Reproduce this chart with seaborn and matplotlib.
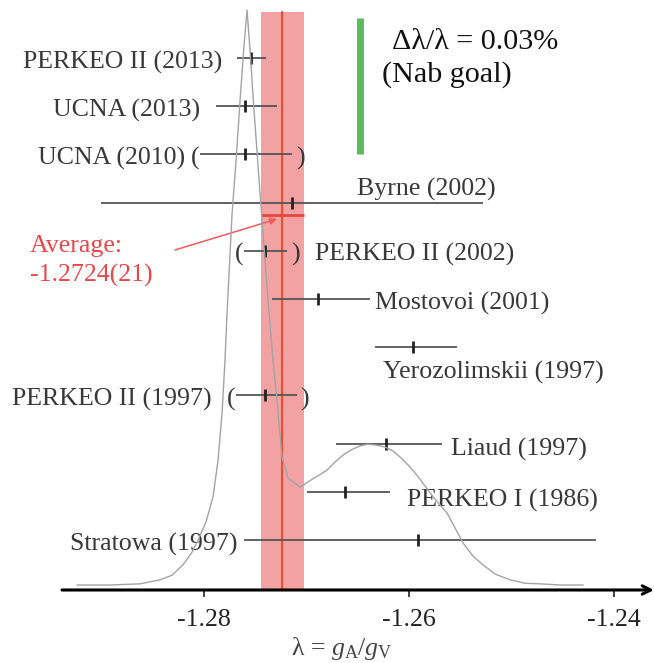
import pandas as pd
import matplotlib
matplotlib.use("Agg")
import matplotlib.pyplot as plt
import seaborn as sns

experimentos = ["PERKEO II (2013)", "UCNA (2013)", "UCNA (2010)", "Byrne (2002)",
                "PERKEO II (2002)", "Mostovoi (2001)", "Yerozolimskii (1997)",
                "PERKEO II (1997)", "Liaud (1997)", "PERKEO I (1986)", "Stratowa (1997)"]
lam_centro = [-1.2754, -1.2760, -1.2760, -1.2714, -1.2741, -1.2689, -1.2596,
              -1.2741, -1.2623, -1.2663, -1.2592]
err_inf = [0.0014, 0.0029, 0.0044, 0.0187, 0.0020, 0.0045, 0.0037, 0.0028, 0.0049, 0.0037, 0.0169]
err_sup = [0.0014, 0.0031, 0.0046, 0.0186, 0.0022, 0.0051, 0.0043, 0.0031, 0.0055, 0.0044, 0.0174]
excluido = [False, False, True, False, True, False, False, True, False, False, False]

promedio = -1.2724
promedio_err = 0.0021

# Ideograma (curva gris), altura relativa al máximo
ideo_x = [-1.29241, -1.28920, -1.28627, -1.28432, -1.28315, -1.28208, -1.28120, -1.28061,
          -1.27983, -1.27915, -1.27866, -1.27827, -1.27798, -1.27778, -1.27730, -1.27690,
          -1.27651, -1.27612, -1.27583, -1.27554, -1.27515, -1.27476, -1.27437, -1.27378,
          -1.27330, -1.27291, -1.27271, -1.27242, -1.27183, -1.27066, -1.26939, -1.26871,
          -1.26802, -1.26724, -1.26646, -1.26568, -1.26480, -1.26402, -1.26314, -1.26236,
          -1.26158, -1.26080, -1.25992, -1.25895, -1.25797, -1.25719, -1.25631, -1.25553,
          -1.25475, -1.25377, -1.25280, -1.25163, -1.25017, -1.24870, -1.24724, -1.24529,
          -1.24304]
ideo_h = [0.0, 0.0, 0.002, 0.009, 0.017, 0.035, 0.057, 0.078,
          0.110, 0.153, 0.217, 0.299, 0.391, 0.473, 0.643, 0.739,
          0.843, 0.939, 1.0, 0.930, 0.826, 0.730, 0.635, 0.496,
          0.391, 0.322, 0.278, 0.223, 0.186, 0.170, 0.185, 0.192,
          0.200, 0.214, 0.226, 0.235, 0.242, 0.245, 0.243, 0.240,
          0.233, 0.221, 0.205, 0.184, 0.160, 0.143, 0.125, 0.099,
          0.073, 0.050, 0.035, 0.019, 0.009, 0.003, 0.002, 0.0,
          0.0]

ticks = [-1.28, -1.26, -1.24]
tick_labels = ["-1.28", "-1.26", "-1.24"]

# Posición de las etiquetas: (x en píxeles, desplazamiento de línea base en filas, alineación)
etiquetas_pos = [(222, 0.21, "right"), (200, 0.21, "right"), (185, 0.21, "right"),
                 (357, -0.15, "left"), (315, 0.21, "left"), (375, 0.21, "left"),
                 (383, 0.66, "left"), (212, 0.21, "right"), (451, 0.25, "left"),
                 (407, 0.31, "left"), (237, 0.21, "right")]


def px2lam(p):
    return -1.28 + (p - 204.3) / 10250


sns.set_theme(style="white")
plt.rcParams["font.family"] = ["Liberation Serif", "DejaVu Serif"]
plt.rcParams["mathtext.fontset"] = "custom"
plt.rcParams["mathtext.rm"] = "Liberation Serif"
plt.rcParams["mathtext.it"] = "Liberation Serif:italic"

df = pd.DataFrame({"exp": experimentos, "lam": lam_centro, "lo": err_inf,
                   "hi": err_sup, "excl": excluido})
df["fila"] = range(len(df))

fig = plt.figure(figsize=(6.54, 6.63), dpi=100)
ax = fig.add_axes([0, 73 / 663, 1, 590 / 663])
ax.set_xlim(px2lam(0), px2lam(654))
ax.set_ylim(11.037, -1.2033)

rojo = "#e8474a"
texto = "#383838"
fs = 18.6
top = (590 - 12) / 590

# Banda del promedio
ax.axvspan(promedio - promedio_err, promedio + promedio_err, ymin=0, ymax=top,
           color="#f2a2a2", lw=0, zorder=0)
ax.axvline(promedio, ymin=0, ymax=top, color="#ee4d30", lw=1.5, zorder=1)
ax.hlines(3.257, promedio - promedio_err, promedio + promedio_err, color="#e8453c", lw=2, zorder=2)

# Barra verde (meta de Nab)
ax.vlines(px2lam(359.5), -0.83, 1.99, color="#5cba5f", lw=5)
ax.text(px2lam(392), -0.187, "Δλ/λ = 0.03%", fontsize=21.7, color="#111111", va="baseline")
ax.text(px2lam(382), 0.498, "(Nab goal)", fontsize=21.7, color="#111111", va="baseline")

# Mediciones
ax.errorbar(df["lam"], df["fila"], xerr=[df["lo"], df["hi"]], fmt="|", ms=8, mew=2,
            color="#222222", ecolor="#555555", elinewidth=1.3, capsize=0, zorder=3)

for (_, r), (xp, dy, ha) in zip(df.iterrows(), etiquetas_pos):
    ax.text(px2lam(xp), r["fila"] + dy, r["exp"], fontsize=fs, color=texto,
            ha=ha, va="baseline")
    if r["excl"]:
        ax.annotate("(", xy=(r["lam"] - r["lo"], r["fila"] + 0.21), xytext=(-0.7, 0),
                    textcoords="offset points", ha="right", va="baseline",
                    fontsize=fs, color=texto)
        ax.annotate(")", xy=(r["lam"] + r["hi"], r["fila"] + 0.21), xytext=(2.9, 0),
                    textcoords="offset points", ha="left", va="baseline",
                    fontsize=fs, color=texto)

# Promedio
ax.annotate("", xy=(px2lam(277), 3.340), xytext=(px2lam(175), 3.983),
            arrowprops=dict(arrowstyle="-|>", color="#f05a5a", lw=1.1,
                            mutation_scale=10, shrinkA=0, shrinkB=0))
ax.text(px2lam(30), 4.025, "Average:", fontsize=fs, color=rojo, va="baseline")
ax.text(px2lam(30), 4.647, f"{promedio:.4f}({round(promedio_err * 1e4)})",
        fontsize=fs, color=rojo, va="baseline")

# Eje x
for s in ax.spines.values():
    s.set_visible(False)
ax.set_yticks([])
ax.set_xticks(ticks, tick_labels)
ax.tick_params(axis="x", bottom=True, direction="out", length=5, width=1.2,
               pad=8.5, labelsize=fs, colors="#222222")
ax.annotate("", xy=(1.0, 0), xytext=(62 / 654, 0), xycoords="axes fraction",
            arrowprops=dict(arrowstyle="->", lw=2.2, color="black",
                            mutation_scale=15, shrinkA=0, shrinkB=0),
            annotation_clip=False)
ax.text(342 / 654, -0.110, r"λ = $g_{\mathrm{A}}/g_{\mathrm{V}}$", transform=ax.transAxes,
        fontsize=fs, color="#444444", ha="center", va="baseline")

# Ideograma
ax2 = ax.twinx()
sns.lineplot(x=ideo_x, y=ideo_h, ax=ax2, color="#a3a3a3", lw=1, sort=False, estimator=None)
ax2.set_ylim(-5 / 575, 585 / 575)
ax2.set_yticks([])
for s in ax2.spines.values():
    s.set_visible(False)

fig.savefig("out.png", dpi=100)
